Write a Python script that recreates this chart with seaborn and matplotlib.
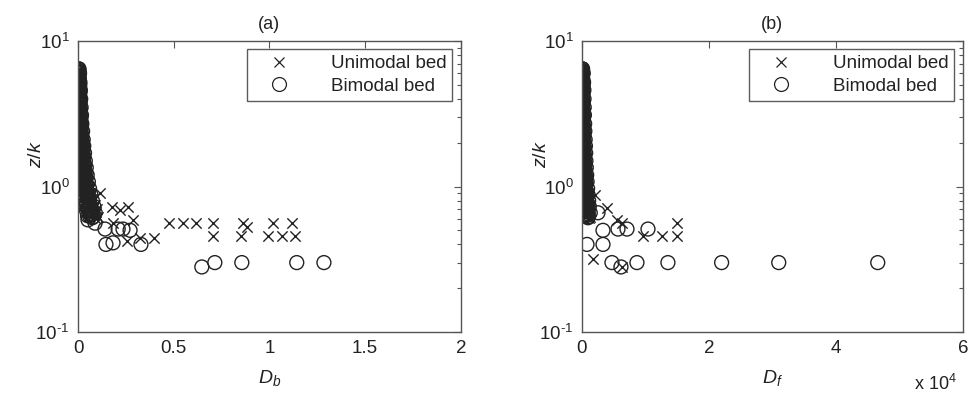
import numpy as np
import matplotlib
matplotlib.use("Agg")
import matplotlib.pyplot as plt
from matplotlib.lines import Line2D
from matplotlib.ticker import LogLocator, FixedLocator, FuncFormatter, NullFormatter
import seaborn as sns

sns.set_style("white")
plt.rcParams['font.family'] = ['Liberation Sans', 'DejaVu Sans']
plt.rcParams['mathtext.fontset'] = 'custom'
plt.rcParams['mathtext.rm'] = 'Liberation Sans'
plt.rcParams['mathtext.it'] = 'Liberation Sans:italic'

# ---- (a) z/k vs D_b ----
# unimodal bed (x markers)
uni_db = [0.006, 0.010, 0.008, 0.012, 0.010, 0.015, 0.012, 0.018, 0.015, 0.022, 0.018, 0.026,
          0.022, 0.030, 0.026, 0.035, 0.030, 0.040, 0.036, 0.046, 0.042, 0.053, 0.048, 0.060,
          0.055, 0.068, 0.062, 0.078, 0.070, 0.088, 0.080, 0.100, 0.004, 0.006, 0.009, 0.020,
          0.115, 0.178, 0.219, 0.261, 0.183, 0.287, 0.256, 0.324, 0.397,
          0.475, 0.548, 0.616, 0.705, 0.862, 0.882, 1.018, 1.117,
          0.705, 0.851, 0.992, 1.065, 1.133]
uni_zk_a = [6.2, 5.7, 5.3, 4.8, 4.4, 4.1, 3.7, 3.4, 3.1, 2.8, 2.6, 2.4,
            2.2, 2.05, 1.9, 1.75, 1.62, 1.5, 1.4, 1.3, 1.22, 1.14, 1.07, 1.0,
            0.95, 0.9, 0.85, 0.82, 0.78, 0.75, 0.72, 0.70, 3.2, 2.3, 1.6, 1.1,
            0.90, 0.72, 0.69, 0.72, 0.56, 0.59, 0.42, 0.44, 0.44,
            0.56, 0.56, 0.56, 0.56, 0.56, 0.53, 0.56, 0.56,
            0.46, 0.46, 0.46, 0.46, 0.46]

# bimodal bed (o markers)
bi_db = [0.005, 0.008, 0.004, 0.010, 0.006, 0.012, 0.007, 0.014, 0.009, 0.016, 0.011, 0.018,
         0.013, 0.020, 0.015, 0.024, 0.018, 0.027, 0.021, 0.030, 0.024, 0.034, 0.027, 0.038,
         0.031, 0.043, 0.035, 0.048, 0.040, 0.054, 0.045, 0.060, 0.020, 0.050, 0.067, 0.030,
         0.056, 0.075, 0.040, 0.062, 0.083, 0.050, 0.070, 0.090, 0.060,
         0.002, 0.003, 0.004, 0.006, 0.010,
         0.052, 0.089, 0.141, 0.235, 0.272, 0.210, 0.183, 0.146, 0.329,
         0.647, 0.715, 0.856, 1.143, 1.285]
bi_zk_a = [6.4, 6.0, 5.6, 5.2, 4.9, 4.6, 4.3, 4.0, 3.8, 3.5, 3.3, 3.1,
           2.9, 2.7, 2.55, 2.4, 2.25, 2.1, 2.0, 1.9, 1.8, 1.7, 1.6, 1.5,
           1.42, 1.35, 1.28, 1.2, 1.14, 1.08, 1.02, 0.97, 0.95, 0.92, 0.88, 0.86,
           0.84, 0.80, 0.78, 0.76, 0.73, 0.70, 0.68, 0.66, 0.63,
           3.0, 2.0, 1.5, 1.2, 1.0,
           0.59, 0.56, 0.51, 0.51, 0.50, 0.51, 0.41, 0.40, 0.40,
           0.28, 0.30, 0.30, 0.30, 0.30]

# ---- (b) z/k vs D_f ----
uni_df = [150, 250, 120, 300, 200, 350, 180, 400, 250, 450, 300, 500,
          350, 560, 400, 620, 450, 680, 500, 750, 550, 820, 600, 900,
          650, 980, 700, 1050, 800, 1150, 900, 1250, 60, 90, 130, 300,
          2050, 3940, 5510, 6300, 9600, 12600, 14960, 14960, 1730, 6300]
uni_zk_b = [6.2, 5.7, 5.3, 4.8, 4.4, 4.1, 3.7, 3.4, 3.1, 2.8, 2.6, 2.4,
            2.2, 2.05, 1.9, 1.75, 1.62, 1.5, 1.4, 1.3, 1.22, 1.14, 1.07, 1.0,
            0.95, 0.9, 0.85, 0.82, 0.78, 0.75, 0.72, 0.70, 3.2, 2.3, 1.6, 1.1,
            0.875, 0.71, 0.59, 0.56, 0.46, 0.46, 0.46, 0.56, 0.32, 0.28]

bi_df = [100, 200, 80, 250, 150, 300, 120, 320, 180, 350, 200, 380,
         220, 420, 250, 450, 280, 500, 300, 540, 330, 580, 360, 620,
         400, 680, 450, 740, 500, 800, 560, 880, 300, 650, 960, 400,
         750, 1050, 500, 850, 1150, 600, 950, 1300, 700,
         50, 60, 80, 100, 150,
         790, 2520, 3310, 790, 3310, 5670, 7090, 10400,
         4720, 6140, 8660, 13540, 22000, 31000, 46600]
bi_zk_b = [6.4, 6.0, 5.6, 5.2, 4.9, 4.6, 4.3, 4.0, 3.8, 3.5, 3.3, 3.1,
           2.9, 2.7, 2.55, 2.4, 2.25, 2.1, 2.0, 1.9, 1.8, 1.7, 1.6, 1.5,
           1.42, 1.35, 1.28, 1.2, 1.14, 1.08, 1.02, 0.97, 0.95, 0.92, 0.88, 0.86,
           0.84, 0.80, 0.78, 0.76, 0.73, 0.70, 0.68, 0.66, 0.63,
           3.0, 2.0, 1.5, 1.2, 1.0,
           0.69, 0.66, 0.50, 0.40, 0.40, 0.51, 0.51, 0.51,
           0.30, 0.28, 0.30, 0.30, 0.30, 0.30, 0.30]

# extra near-bed column points (shared z/k levels)
col_zk = [6.3, 6.1, 5.8, 5.5, 5.3, 5.0, 4.7, 4.5, 4.2, 3.9, 3.7, 3.4, 3.2, 3.0, 2.8,
          2.6, 2.5, 2.3, 2.2, 2.05, 1.95, 1.85, 1.75, 1.65, 1.55, 1.45, 1.38, 1.3, 1.24, 1.17,
          1.1, 1.05, 1.0, 0.98, 0.93, 0.9, 0.87, 0.82, 0.79, 0.75, 0.72, 0.69, 0.67, 0.64, 0.62]
col_uni_db = [0.003, 0.008, 0.005, 0.009, 0.006, 0.011, 0.007, 0.012, 0.009, 0.014, 0.010, 0.016,
              0.012, 0.018, 0.014, 0.021, 0.016, 0.024, 0.018, 0.027, 0.020, 0.031, 0.023, 0.035,
              0.026, 0.039, 0.030, 0.043, 0.034, 0.048, 0.038, 0.054, 0.042, 0.020, 0.050, 0.035,
              0.064, 0.045, 0.074, 0.058, 0.085, 0.068, 0.095, 0.080, 0.105]
col_bi_db = [0.002, 0.006, 0.003, 0.007, 0.004, 0.009, 0.005, 0.010, 0.006, 0.011, 0.008, 0.013,
             0.009, 0.015, 0.011, 0.017, 0.012, 0.019, 0.014, 0.022, 0.016, 0.025, 0.018, 0.028,
             0.021, 0.031, 0.024, 0.035, 0.027, 0.039, 0.030, 0.044, 0.034, 0.012, 0.040, 0.025,
             0.052, 0.035, 0.060, 0.045, 0.068, 0.055, 0.076, 0.065, 0.080]
col_uni_df = [40, 120, 60, 150, 80, 180, 100, 210, 120, 240, 140, 270, 160, 300, 180,
              340, 200, 380, 230, 420, 260, 470, 290, 520, 320, 580, 360, 640, 400, 710,
              440, 790, 490, 200, 560, 320, 680, 430, 820, 560, 960, 680, 1100, 800, 1250]
col_bi_df = [20, 80, 40, 100, 50, 130, 60, 150, 80, 170, 100, 200, 110, 230, 130,
             260, 150, 290, 170, 330, 190, 370, 210, 410, 240, 460, 270, 510, 300, 570,
             330, 640, 370, 150, 450, 250, 560, 350, 680, 450, 800, 550, 920, 650, 1000]

col_zk2 = [6.45, 6.2, 5.95, 5.65, 5.4, 5.15, 4.85, 4.6, 4.35, 4.05, 3.8, 3.55, 3.3, 3.1, 2.9,
           2.7, 2.55, 2.4, 2.25, 2.12, 2.0, 1.9, 1.8, 1.7, 1.6, 1.5, 1.41, 1.34, 1.27, 1.2,
           1.13, 1.07, 1.02, 0.96, 0.92, 0.88, 0.85, 0.8, 0.77, 0.74, 0.7, 0.68, 0.65, 0.63, 0.61]
col2_uni_db = [0.005, 0.002, 0.007, 0.003, 0.008, 0.004, 0.010, 0.005, 0.011, 0.006, 0.013, 0.008,
               0.015, 0.009, 0.017, 0.010, 0.019, 0.012, 0.021, 0.014, 0.024, 0.016, 0.027, 0.018,
               0.030, 0.021, 0.034, 0.024, 0.038, 0.027, 0.043, 0.030, 0.048, 0.034, 0.053, 0.038,
               0.058, 0.042, 0.064, 0.047, 0.072, 0.052, 0.080, 0.058, 0.090]
col2_bi_db = [0.004, 0.001, 0.005, 0.002, 0.006, 0.003, 0.008, 0.004, 0.009, 0.005, 0.010, 0.006,
              0.012, 0.007, 0.014, 0.008, 0.016, 0.010, 0.018, 0.012, 0.020, 0.014, 0.023, 0.016,
              0.026, 0.018, 0.030, 0.020, 0.034, 0.022, 0.038, 0.025, 0.042, 0.028, 0.046, 0.032,
              0.050, 0.036, 0.056, 0.040, 0.062, 0.045, 0.070, 0.050, 0.075]
col2_uni_df = [80, 20, 100, 30, 120, 50, 140, 60, 160, 80, 190, 100, 220, 110, 250,
               130, 280, 150, 310, 170, 350, 200, 390, 220, 430, 250, 480, 280, 530, 310,
               580, 350, 640, 390, 700, 430, 770, 480, 850, 530, 940, 580, 1030, 640, 1150]
col2_bi_df = [60, 10, 70, 20, 90, 30, 110, 40, 130, 50, 150, 60, 170, 80, 190,
              90, 210, 110, 240, 130, 270, 150, 300, 170, 330, 190, 370, 210, 410, 240,
              450, 270, 500, 300, 560, 330, 620, 370, 700, 410, 780, 450, 860, 500, 950]

ink = "#222222"
edge = "#555555"
txt = "#222222"

fig = plt.figure(figsize=(9.69, 3.97), dpi=100)
ax1 = fig.add_axes([0.0805, 0.1637, 0.395, 0.733])
ax2 = fig.add_axes([0.6006, 0.1637, 0.393, 0.733])


def log_label(v, p):
    e = int(round(np.log10(v)))
    if e < 0:
        return r"$10^{\text{-}%d}$" % (-e)
    return r"$10^{%d}$" % e


def draw(ax, ux, uy, bx, by):
    sns.scatterplot(x=ux, y=uy, ax=ax, marker="x", s=55, color=ink, linewidth=1.0, legend=False)
    sns.scatterplot(x=bx, y=by, ax=ax, marker="o", s=100, facecolor="none",
                    edgecolor=ink, linewidth=1.0, legend=False)
    ax.set_yscale("log")
    ax.set_ylim(0.1, 10)
    ax.yaxis.set_major_locator(LogLocator(base=10, numticks=5))
    ax.yaxis.set_minor_locator(LogLocator(base=10, subs=np.arange(2, 10), numticks=20))
    ax.yaxis.set_minor_formatter(NullFormatter())
    ax.yaxis.set_major_formatter(FuncFormatter(log_label))
    ax.tick_params(which="both", direction="in", top=True, right=True, colors=edge,
                   labelcolor=txt, labelsize=13.5, width=0.8)
    ax.tick_params(which="major", length=5, pad=6)
    ax.tick_params(which="minor", length=3)
    for sp in ax.spines.values():
        sp.set_color(edge)
        sp.set_linewidth(1.0)
    ax.set_ylabel(r"$z/k$", fontsize=14, color=txt)
    ax.yaxis.set_label_coords(-0.085, 0.61)
    handles = [Line2D([], [], marker="x", ls="none", color=ink, markersize=7, mew=0.9),
               Line2D([], [], marker="o", ls="none", mfc="none", mec=ink, markersize=10, mew=0.9)]
    leg = ax.legend(handles, ["Unimodal bed", "Bimodal bed"], loc="upper right",
                    fontsize=13.5, frameon=True, fancybox=False, edgecolor="#333333",
                    handletextpad=1.4, borderaxespad=0.45, labelspacing=0.3,
                    borderpad=0.3, handlelength=2.8)
    leg.get_frame().set_linewidth(1.0)
    for t in leg.get_texts():
        t.set_color(txt)


draw(ax1, uni_db + col_uni_db + col2_uni_db, uni_zk_a + col_zk + col_zk2,
     bi_db + col_bi_db + col2_bi_db, bi_zk_a + col_zk + col_zk2)
ax1.set_xlim(0, 2)
ax1.xaxis.set_major_locator(FixedLocator([0, 0.5, 1, 1.5, 2]))
ax1.xaxis.set_major_formatter(FuncFormatter(lambda v, p: "%g" % v))
ax1.set_xlabel(r"$D_b$", fontsize=14, color=txt)
ax1.xaxis.set_label_coords(0.5, -0.125)
ax1.set_title("(a)", fontsize=13, color=txt, pad=9)

draw(ax2, uni_df + col_uni_df + col2_uni_df, uni_zk_b + col_zk + col_zk2,
     bi_df + col_bi_df + col2_bi_df, bi_zk_b + col_zk + col_zk2)
ax2.set_xlim(0, 60000)
ax2.xaxis.set_major_locator(FixedLocator([0, 20000, 40000, 60000]))
ax2.xaxis.set_major_formatter(FuncFormatter(lambda v, p: "%g" % (v / 1e4)))
ax2.set_xlabel(r"$D_f$", fontsize=14, color=txt)
ax2.xaxis.set_label_coords(0.5, -0.125)
ax2.set_title("(b)", fontsize=13, color=txt, pad=9)
fig.text(0.965, 0.008, r"x $10^{4}$", fontsize=13, color=txt, ha="center", va="bottom")

fig.savefig("out.png", dpi=100, facecolor="white")
